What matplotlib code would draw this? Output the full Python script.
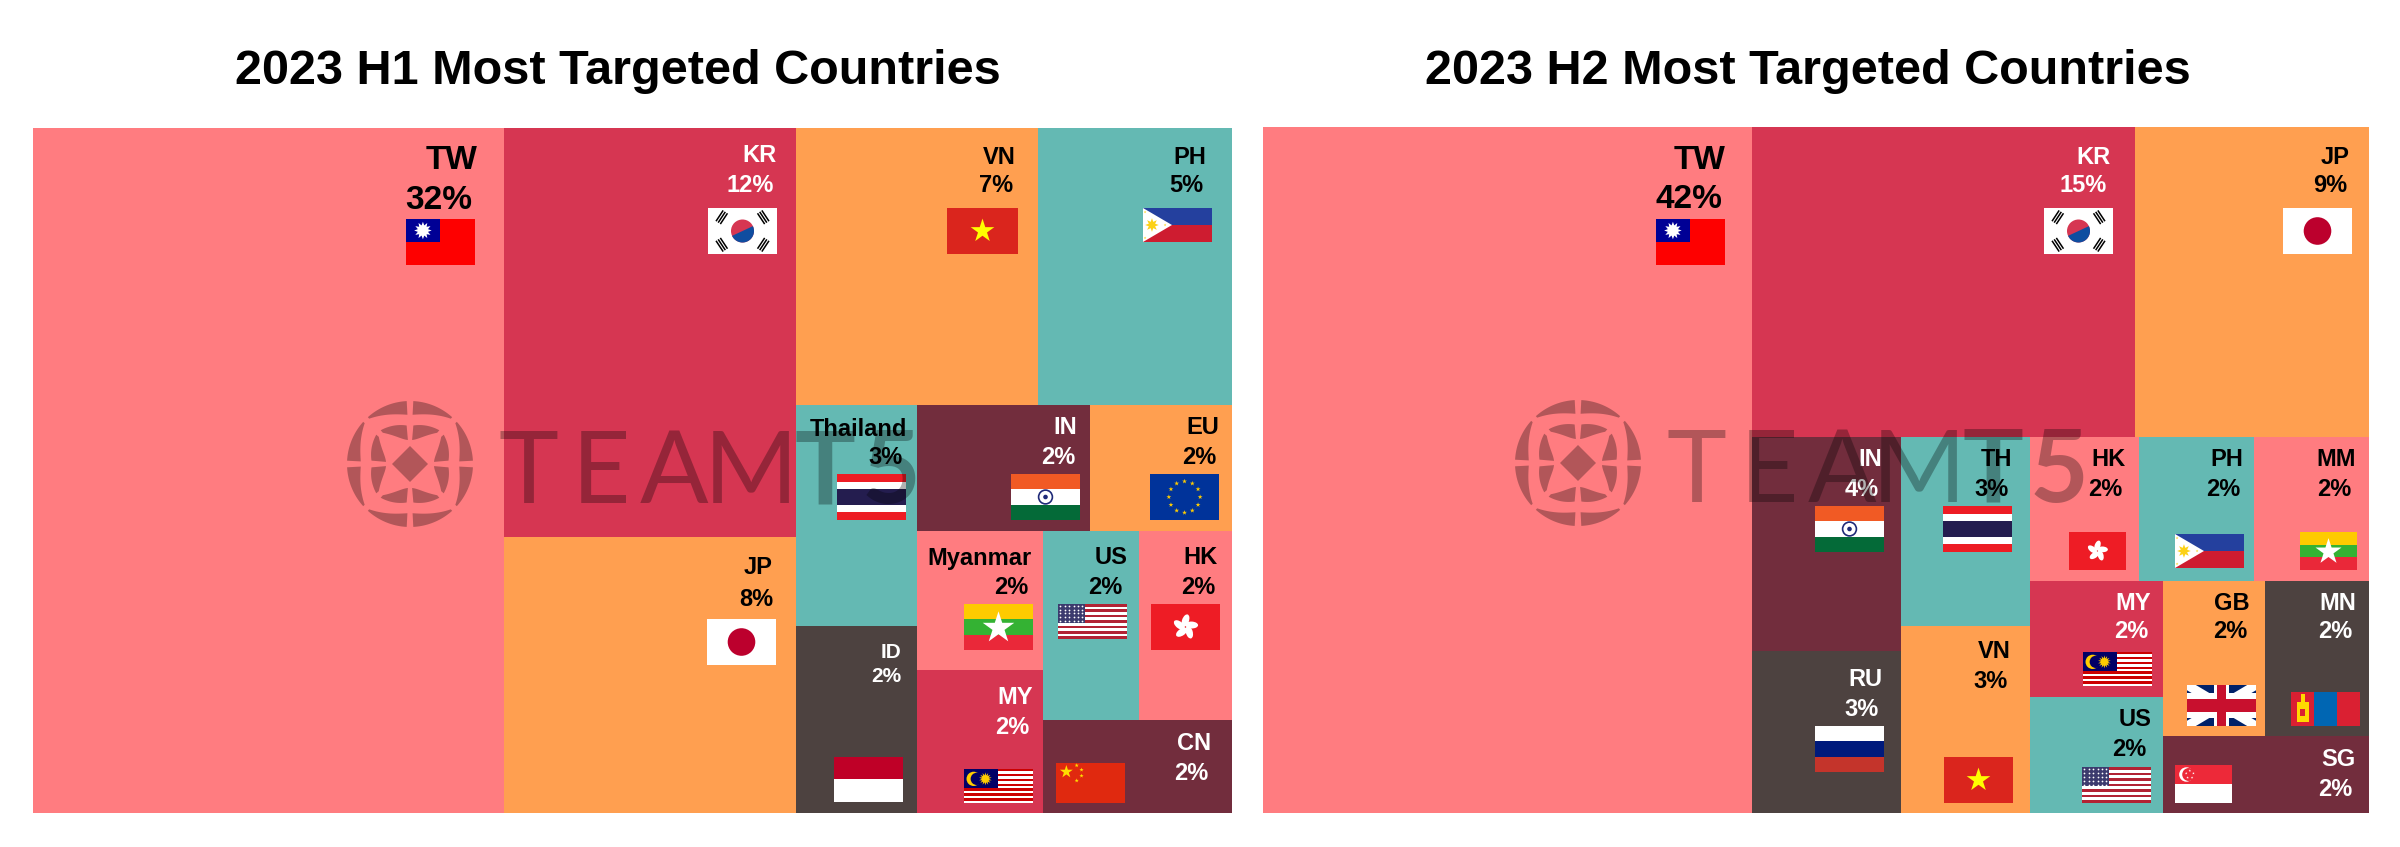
import numpy as np
import matplotlib; matplotlib.use("Agg"); import matplotlib.pyplot as plt
from matplotlib.patches import Rectangle, Polygon, Ellipse, Circle

plt.rcParams["font.family"] = ["Liberation Sans", "DejaVu Sans"]

PINK, RED, ORANGE, TEAL, MAROON, DARK = "#FF7C80", "#D63652", "#FF9F50", "#64B9B3", "#722D3D", "#4D4240"
WHITE_ON = {RED, MAROON, DARK}

# picture size in pixels, everything below is laid out in that space
W, H = 2400, 847

# ---- data: labels, and area shares (labels are rounded)
H1_TITLE = "2023 H1 Most Targeted Countries"
H1_NAMES = ["TW", "KR", "JP", "VN", "PH", "Thailand", "ID", "IN", "EU", "Myanmar", "MY", "US", "HK", "CN"]
H1_PCT = [32, 12, 8, 7, 5, 3, 2, 2, 2, 2, 2, 2, 2, 2]
H1_AREA = [39.30, 14.54, 9.81, 8.13, 6.54, 3.26, 2.75, 2.65, 2.18, 2.13, 2.18, 2.21, 2.14, 2.14]
H1_FLAGS = ["tw", "kr", "jp", "vn", "ph", "th", "id", "in", "eu", "mm", "my", "us", "hk", "cn"]
H1_COLORS = [PINK, RED, ORANGE, ORANGE, TEAL, TEAL, DARK, MAROON, ORANGE, PINK, RED, TEAL, PINK, MAROON]
# slicing order of the treemap: h = side by side, v = stacked, ints index the lists above
H1_TREE = ("h", [0, ("v", [1, 2]), ("v", [("h", [3, 4]), ("h", [("v", [5, 6]), ("v", [("h", [7, 8]),
            ("h", [("v", [9, 10]), ("v", [("h", [11, 12]), 13])])])])])])

H2_TITLE = "2023 H2 Most Targeted Countries"
H2_NAMES = ["TW", "KR", "JP", "IN", "RU", "TH", "VN", "HK", "PH", "MM", "MY", "US", "GB", "MN", "SG"]
H2_PCT = [42, 15, 9, 4, 3, 3, 3, 2, 2, 2, 2, 2, 2, 2, 2]
H2_AREA = [44.21, 15.65, 9.56, 4.20, 3.18, 3.19, 3.15, 2.07, 2.17, 2.17, 2.05, 2.05, 2.08, 2.12, 2.09]
H2_FLAGS = ["tw", "kr", "jp", "in", "ru", "th", "vn", "hk", "ph", "mm", "my", "us", "gb", "mn", "sg"]
H2_COLORS = [PINK, RED, ORANGE, MAROON, DARK, TEAL, ORANGE, PINK, TEAL, PINK, RED, TEAL, ORANGE, DARK, MAROON]
H2_TREE = ("h", [0, ("v", [("h", [1, 2]), ("h", [("v", [3, 4]), ("v", [5, 6]), ("v", [("h", [7, 8, 9]),
            ("h", [("v", [10, 11]), ("v", [("h", [12, 13]), 14])])])])])])

# ---- placement: panel boxes, then per-cell (name right, name y, pct right, pct y)
H1_BOX = (33, 128, 1232, 813)
H2_BOX = (1263, 127, 2369, 813)
H1_TITLE_XY = (618, 71)
H2_TITLE_XY = (1808, 71)
H1_LABEL = [(477, 157, 472, 197), (776, 154, 774, 184), (773, 566, 773, 597), (1016, 156, 1013, 184),
            (1206, 156, 1203, 184), (907, 427, 903, 456), (901, 650, 901, 675), (1077, 426, 1075, 456),
            (1219, 426, 1216, 456), (1032, 556, 1028, 585), (1033, 695, 1029, 725), (1127, 556, 1122, 585),
            (1218, 556, 1215, 585), (1211, 742, 1208, 771)]
H2_LABEL = [(1726, 157, 1722, 196), (2110, 155, 2107, 184), (2350, 155, 2347, 184), (1882, 458, 1879, 487),
            (1882, 678, 1879, 708), (2012, 458, 2009, 487), (2011, 650, 2008, 679), (2126, 458, 2122, 487),
            (2243, 458, 2240, 487), (2356, 458, 2351, 487), (2151, 601, 2148, 630), (2151, 717, 2146, 747),
            (2250, 601, 2247, 630), (2356, 601, 2352, 630), (2356, 758, 2352, 787)]
# flag boxes (x0, y0, x1, y1)
H1_FLAG_BOX = [(406, 219, 475, 265), (708, 208, 777, 254), (707, 619, 776, 665), (947, 208, 1018, 254),
               (1143, 208, 1212, 242), (837, 474, 906, 520), (834, 757, 903, 802), (1011, 474, 1080, 520),
               (1150, 474, 1219, 520), (964, 604, 1033, 650), (964, 769, 1033, 803), (1058, 604, 1127, 639),
               (1151, 604, 1220, 650), (1056, 763, 1125, 803)]
H2_FLAG_BOX = [(1656, 219, 1725, 265), (2044, 208, 2113, 254), (2283, 208, 2352, 254), (1815, 506, 1884, 552),
               (1815, 726, 1884, 772), (1943, 506, 2012, 552), (1944, 757, 2013, 803), (2069, 532, 2126, 570),
               (2175, 534, 2244, 568), (2300, 532, 2357, 570), (2083, 652, 2152, 686), (2082, 767, 2151, 803),
               (2187, 685, 2256, 726), (2291, 692, 2360, 726), (2175, 765, 2232, 803)]
H1_SIZES = {0: 24, 6: 15}   # everything else 17pt
H2_SIZES = {0: 24}

# watermark, centre of each letter measured from the logo centre of that panel
MARK_CENTRES = [(410, 464), (1578, 463)]
MARK_LETTERS = ["T", "E", "A", "M", "T", "5"]
MARK_DX = [118, 191, 264, 341, 415, 481]
MARK_WEIGHT = ["normal", "normal", "normal", "normal", "bold", "bold"]


def layout(node, box, area, out):
    if isinstance(node, int):
        out[node] = box
        return
    kind, kids = node
    sizes = [total(k, area) for k in kids]
    x0, y0, x1, y1 = box; pos = x0 if kind == "h" else y0
    span = (x1 - x0) if kind == "h" else (y1 - y0)
    for k, s in zip(kids, sizes):
        step = span * s / sum(sizes)
        b = (pos, y0, pos + step, y1) if kind == "h" else (x0, pos, x1, pos + step)
        layout(k, b, area, out); pos += step


def total(node, area):
    return area[node] if isinstance(node, int) else sum(total(k, area) for k in node[1])


def star(cx, cy, r, rot=-90, n=5, inner=0.382):
    a = np.radians(rot + np.arange(2 * n) * 180 / n)
    rr = np.where(np.arange(2 * n) % 2 == 0, r, r * inner)
    return np.c_[cx + rr * np.cos(a), cy + rr * np.sin(a)]


def draw_flag(ax, code, box):
    x0, y0, x1, y1 = box; w, h = x1 - x0, y1 - y0; cx, cy = (x0 + x1) / 2, (y0 + y1) / 2
    z = 3

    def rect(u0, v0, u1, v1, c):
        ax.add_patch(Rectangle((x0 + u0 * w, y0 + v0 * h), (u1 - u0) * w, (v1 - v0) * h, fc=c, ec="none", zorder=z + 0.05))

    def poly(pts, c, zz=z + 0.1):
        ax.add_patch(Polygon(pts, closed=True, fc=c, ec="none", zorder=zz))

    def bands(cols, sizes=None):
        sizes = sizes or [1] * len(cols); e = np.cumsum([0] + sizes) / sum(sizes)
        for i, c in enumerate(cols):
            rect(0, e[i], 1, e[i + 1], c)

    if code == "tw":
        rect(0, 0, 1, 1, "#FE0000"); rect(0, 0, 0.49, 0.5, "#000095")
        poly(star(x0 + 0.245 * w, y0 + 0.25 * h, 0.19 * h, n=12, inner=0.6), "white")
    elif code == "kr":
        rect(0, 0, 1, 1, "white")
        r = 0.25 * h
        ax.add_patch(Circle((cx, cy), r, fc="#D63652", ec="none", zorder=z + 0.1))
        t = np.radians(np.linspace(-25, 155, 40))
        poly(np.c_[cx + r * np.cos(t), cy + r * np.sin(t)], "#0F4DA0", z + 0.2)
        for sx, sy in [(-1, -1), (1, -1), (-1, 1), (1, 1)]:
            rad = np.array([sx * 0.83, sy * 0.55])           # direction out from the centre
            bar = np.array([-rad[1], rad[0]])                # bars lie across it
            g = np.array([cx, cy]) + rad * 25
            for k in (-1, 0, 1):
                m = g + rad * k * 2.6
                ax.plot([m[0] - bar[0] * 6.5, m[0] + bar[0] * 6.5], [m[1] - bar[1] * 6.5, m[1] + bar[1] * 6.5],
                        color="black", lw=1.1, zorder=z + 0.1, solid_capstyle="butt")
    elif code == "jp":
        rect(0, 0, 1, 1, "white")
        ax.add_patch(Circle((cx, cy), 0.3 * h, fc="#BC002D", ec="none", zorder=z + 0.1))
    elif code == "vn":
        rect(0, 0, 1, 1, "#DA251D"); poly(star(cx, cy, 0.27 * h), "#FFFF00")
    elif code == "ph":
        bands(["#24409E", "#CE1C30"])
        poly([(x0, y0), (x0 + 0.42 * w, cy), (x0, y1)], "white")
        poly(star(x0 + 0.13 * w, cy, 0.2 * h, n=8, inner=0.5), "#FCD116", z + 0.2)
        for u, v in [(0.03, 0.12), (0.03, 0.88), (0.32, 0.5)]:
            poly(star(x0 + u * w, y0 + v * h, 0.04 * h), "#FCD116", z + 0.2)
    elif code == "th":
        bands(["#ED1C24", "white", "#241D4F", "white", "#ED1C24"], [1, 1, 2, 1, 1])
    elif code == "in":
        bands(["#F15A24", "white", "#046A38"])
        ax.add_patch(Circle((cx, cy), 0.15 * h, fc="white", ec="#1F2A78", lw=1.2, zorder=z + 0.1))
        ax.add_patch(Circle((cx, cy), 0.05 * h, fc="#1F2A78", ec="none", zorder=z + 0.2))
    elif code == "eu":
        rect(0, 0, 1, 1, "#00339A")
        for a in np.radians(np.arange(0, 360, 30)):
            poly(star(cx + 0.34 * h * np.cos(a), cy + 0.34 * h * np.sin(a), 0.055 * h), "#FFCC00")
    elif code == "mm":
        bands(["#FECB00", "#34B233", "#EA2839"])
        poly(star(cx, cy + 0.02 * h, 0.36 * h), "white")
    elif code == "us" or code == "my":
        n = 13 if code == "us" else 14
        col = "#B22234" if code == "us" else "#CC0001"
        bands([col if i % 2 == 0 else "white" for i in range(n)])
        if code == "us":
            rect(0, 0, 0.39, 7 / 13, "#3C3B6E")
            xs, ys = np.meshgrid(x0 + w * np.linspace(0.035, 0.355, 6), y0 + h * np.linspace(0.05, 0.49, 5))
            ax.scatter(xs.ravel(), ys.ravel(), s=1.6, c="white", lw=0, zorder=z + 0.1)
        else:
            rect(0, 0, 0.49, 8 / 14, "#010066")
            my, mx = y0 + 0.29 * h, x0 + 0.14 * w
            ax.add_patch(Circle((mx, my), 0.21 * h, fc="#FFCC00", ec="none", zorder=z + 0.1))
            ax.add_patch(Circle((mx + 0.045 * w, my), 0.18 * h, fc="#010066", ec="none", zorder=z + 0.2))
            poly(star(x0 + 0.31 * w, my, 0.19 * h, n=14, inner=0.55), "#FFCC00", z + 0.3)
    elif code == "hk":
        rect(0, 0, 1, 1, "#EE1C25")
        for a in np.arange(0, 360, 72):
            t = np.radians(a - 90)
            ax.add_patch(Ellipse((cx + 0.14 * h * np.cos(t), cy + 0.14 * h * np.sin(t)), 0.15 * h, 0.28 * h,
                                 angle=a + 20, fc="white", ec="none", zorder=z + 0.1))
    elif code == "id":
        bands(["#BF0027", "white"])
    elif code == "cn":
        rect(0, 0, 1, 1, "#E0290F")
        poly(star(x0 + 0.15 * w, y0 + 0.22 * h, 0.17 * h), "#FFDE00")
        for u, v in [(0.3, 0.06), (0.37, 0.17), (0.37, 0.32), (0.3, 0.44)]:
            poly(star(x0 + u * w, y0 + v * h, 0.055 * h), "#FFDE00")
    elif code == "ru":
        bands(["white", "#001A7C", "#C4342B"])
    elif code == "gb":
        rect(0, 0, 1, 1, "#012169")
        clip = Rectangle((x0, y0), w, h, transform=ax.transData)
        for a, b in [((x0, y0), (x1, y1)), ((x0, y1), (x1, y0))]:
            ln, = ax.plot([a[0], b[0]], [a[1], b[1]], color="white", lw=6.5, zorder=z + 0.1, solid_capstyle="butt")
            ln.set_clip_path(clip)
        for u0, v0, u1, v1, c in [(0, 0.2, 1, 0.8, "white"), (0.39, 0, 0.61, 1, "white"),
                                  (0, 0.34, 1, 0.66, "#C8102E"), (0.44, 0, 0.56, 1, "#C8102E")]:
            ax.add_patch(Rectangle((x0 + u0 * w, y0 + v0 * h), (u1 - u0) * w, (v1 - v0) * h, fc=c, ec="none", zorder=z + 0.2))
    elif code == "mn":
        bands(["#DA2032"])
        rect(1 / 3, 0, 2 / 3, 1, "#0066B3")
        ax.add_patch(Rectangle((x0 + 0.08 * w, y0 + 0.3 * h), 0.18 * w, 0.58 * h, fc="#FFD900", ec="none", zorder=z + 0.1))
        ax.add_patch(Rectangle((x0 + 0.14 * w, y0 + 0.06 * h), 0.06 * w, 0.24 * h, fc="#FFD900", ec="none", zorder=z + 0.1))
        ax.add_patch(Rectangle((x0 + 0.13 * w, y0 + 0.5 * h), 0.08 * w, 0.22 * h, fc="#DA2032", ec="none", zorder=z + 0.2))
    elif code == "sg":
        bands(["#ED2939", "white"])
        mx, my = x0 + 0.2 * w, y0 + 0.25 * h
        ax.add_patch(Circle((mx, my), 0.19 * h, fc="white", ec="none", zorder=z + 0.1))
        ax.add_patch(Circle((mx + 0.04 * w, my), 0.17 * h, fc="#ED2939", ec="none", zorder=z + 0.2))
        for a in np.arange(-90, 270, 72):
            t = np.radians(a)
            poly(star(mx + 0.06 * w + 0.1 * h * np.cos(t), my + 0.1 * h * np.sin(t), 0.035 * h), "white", z + 0.3)


def draw_panel(ax, title, title_xy, names, pct, area, colors, tree, box, labels, flags, flag_box, sizes):
    cells = {}
    layout(tree, box, area, cells)
    for i, nm in enumerate(names):
        x0, y0, x1, y1 = cells[i]
        ax.add_patch(Rectangle((x0, y0), x1 - x0, y1 - y0, fc=colors[i], ec="none", zorder=1))
        fs = sizes.get(i, 17); cap = 0.36 * fs * 100 / 72
        tc = "white" if colors[i] in WHITE_ON else "black"
        nx, ny, px, py = labels[i]
        ax.text(nx, ny + cap, nm, ha="right", va="baseline", fontsize=fs, fontweight="bold", color=tc, zorder=4)
        ax.text(px, py + cap, f"{pct[i]}%", ha="right", va="baseline", fontsize=fs, fontweight="bold", color=tc, zorder=4)
        draw_flag(ax, flags[i], flag_box[i])
    ax.text(title_xy[0], title_xy[1], title, ha="center", va="center", fontsize=35, fontweight="bold", color="black")


def draw_mark(ax, cx, cy, R=63):
    c, al, z = "black", 0.3, 6
    # web logo: 8 outer segments, 8 inner petals, central diamond, each octant mirrored
    for q in range(4):
        base = q * 90
        for sign in (1, -1):
            # angle measured from the axis towards the diagonal
            t = np.linspace(3.0, 42, 24) / 45
            ang = np.radians(base + sign * t * 45)
            ro = np.full_like(t, R); ri = R * (0.78 + 0.21 * t ** 1.6)
            seg = np.r_[np.c_[cx + ro * np.cos(ang), cy + ro * np.sin(ang)],
                        np.c_[cx + ri * np.cos(ang), cy + ri * np.sin(ang)][::-1]]
            ax.add_patch(Polygon(seg, closed=True, fc=c, alpha=al, ec="none", zorder=z))
            t = np.linspace(5.0, 41, 24) / 45
            ang = np.radians(base + sign * t * 45)
            ro = R * (0.60 + 0.12 * t); ri = R * (0.38 + 0.34 * t ** 2.2)
            seg = np.r_[np.c_[cx + ro * np.cos(ang), cy + ro * np.sin(ang)],
                        np.c_[cx + ri * np.cos(ang), cy + ri * np.sin(ang)][::-1]]
            ax.add_patch(Polygon(seg, closed=True, fc=c, alpha=al, ec="none", zorder=z))
    d = 18
    ax.add_patch(Polygon([(cx - d, cy), (cx, cy - d), (cx + d, cy), (cx, cy + d)], closed=True, fc=c, alpha=al, ec="none", zorder=z))
    for ch, dx, wt in zip(MARK_LETTERS, MARK_DX, MARK_WEIGHT):
        ax.text(cx + dx, cy + 39, ch, ha="center", va="baseline", fontsize=73, family="Lato", fontweight=wt,
                color=c, alpha=al, zorder=z)


fig = plt.figure(figsize=(W / 100, H / 100), dpi=100)
ax = fig.add_axes([0, 0, 1, 1])
ax.set_xlim(0, W); ax.set_ylim(H, 0); ax.axis("off")

draw_panel(ax, H1_TITLE, H1_TITLE_XY, H1_NAMES, H1_PCT, H1_AREA, H1_COLORS, H1_TREE, H1_BOX, H1_LABEL, H1_FLAGS, H1_FLAG_BOX, H1_SIZES)
draw_panel(ax, H2_TITLE, H2_TITLE_XY, H2_NAMES, H2_PCT, H2_AREA, H2_COLORS, H2_TREE, H2_BOX, H2_LABEL, H2_FLAGS, H2_FLAG_BOX, H2_SIZES)
for cx, cy in MARK_CENTRES:
    draw_mark(ax, cx, cy)

fig.savefig("out.png", dpi=100)
